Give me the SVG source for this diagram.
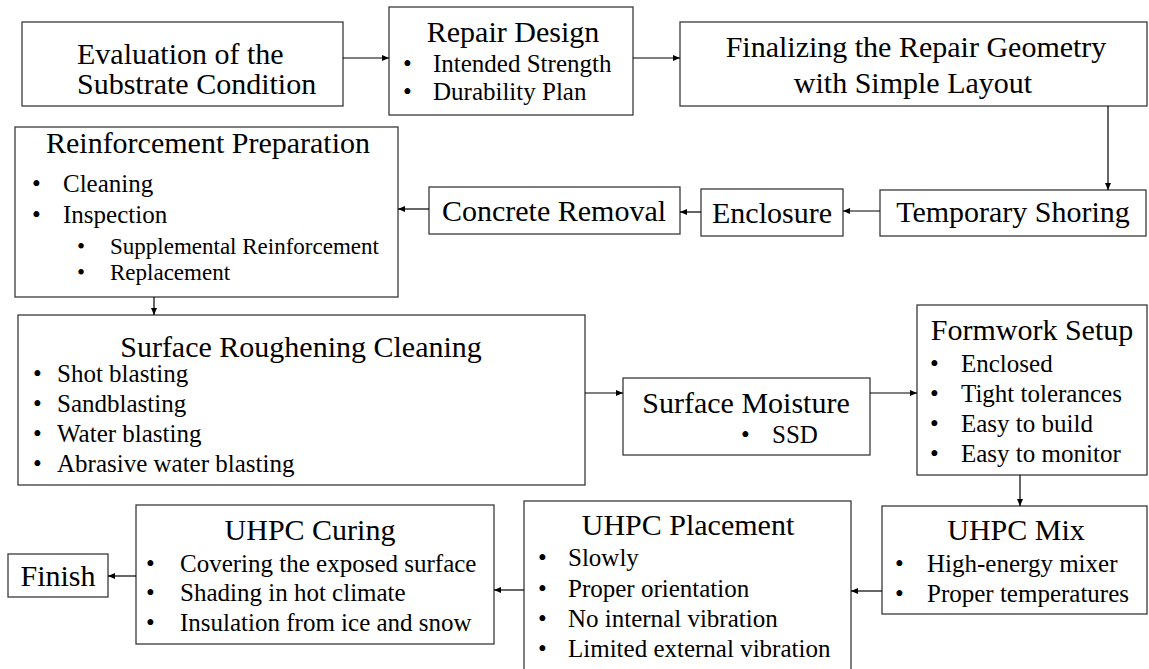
<svg xmlns="http://www.w3.org/2000/svg" width="1149" height="669" viewBox="0 0 1149 669">
  <style>
    .box { fill: #ffffff; stroke: #3a3a3a; stroke-width: 1.3; }
    text { font-family: "Liberation Serif", "Times New Roman", serif; fill: #000000; }
    .t { font-size: 30px; }
    .b { font-size: 25px; }
    .s { font-size: 23px; }
    .c { text-anchor: middle; }
    .edge { fill: none; stroke: #000000; stroke-width: 1.2; }
  </style>
  <defs>
    <marker id="arrow" markerUnits="userSpaceOnUse" markerWidth="8" markerHeight="7" refX="7" refY="3" orient="auto">
      <path d="M0,0 L7,3 L0,6 z" fill="#000000"/>
    </marker>
  </defs>
  <rect width="1149" height="669" fill="#ffffff"/>

  <g id="evaluation">
    <rect class="box" x="22" y="22" width="321" height="84"/>
    <text class="t" x="77" y="64">Evaluation of the</text>
    <text class="t" x="77" y="94">Substrate Condition</text>
  </g>

  <g id="repair-design">
    <rect class="box" x="389" y="7" width="244" height="108"/>
    <text class="t c" x="513" y="42">Repair Design</text>
    <text class="b" x="403" y="72">•</text>
    <text class="b" x="433" y="72">Intended Strength</text>
    <text class="b" x="403" y="100">•</text>
    <text class="b" x="433" y="100">Durability Plan</text>
  </g>

  <g id="geometry">
    <rect class="box" x="680" y="22" width="467" height="84"/>
    <text class="t c" x="916" y="57">Finalizing the Repair Geometry</text>
    <text class="t c" x="913" y="93">with Simple Layout</text>
  </g>

  <g id="shoring">
    <rect class="box" x="880" y="190" width="266" height="46"/>
    <text class="t c" x="1013" y="222">Temporary Shoring</text>
  </g>

  <g id="enclosure">
    <rect class="box" x="701" y="189" width="142" height="47"/>
    <text class="t c" x="772" y="223">Enclosure</text>
  </g>

  <g id="concrete-removal">
    <rect class="box" x="429" y="187" width="251" height="47"/>
    <text class="t c" x="554" y="221">Concrete Removal</text>
  </g>

  <g id="reinforcement">
    <rect class="box" x="15" y="127" width="383" height="170"/>
    <text class="t c" x="208" y="153">Reinforcement Preparation</text>
    <text class="b" x="32" y="192">•</text>
    <text class="b" x="63" y="192">Cleaning</text>
    <text class="b" x="32" y="223">•</text>
    <text class="b" x="63" y="223">Inspection</text>
    <text class="s" x="77" y="254">•</text>
    <text class="s" x="110" y="254">Supplemental Reinforcement</text>
    <text class="s" x="77" y="280">•</text>
    <text class="s" x="110" y="280">Replacement</text>
  </g>

  <g id="roughening">
    <rect class="box" x="18" y="315" width="567" height="170"/>
    <text class="t c" x="301" y="357">Surface Roughening Cleaning</text>
    <text class="b" x="33" y="382">•</text>
    <text class="b" x="57" y="382">Shot blasting</text>
    <text class="b" x="33" y="412">•</text>
    <text class="b" x="57" y="412">Sandblasting</text>
    <text class="b" x="33" y="442">•</text>
    <text class="b" x="57" y="442">Water blasting</text>
    <text class="b" x="33" y="472">•</text>
    <text class="b" x="57" y="472">Abrasive water blasting</text>
  </g>

  <g id="moisture">
    <rect class="box" x="623" y="378" width="247" height="77"/>
    <text class="t c" x="746" y="413">Surface Moisture</text>
    <text class="b" x="741" y="443">•</text>
    <text class="b" x="772" y="443">SSD</text>
  </g>

  <g id="formwork">
    <rect class="box" x="917" y="305" width="230" height="170"/>
    <text class="t c" x="1032" y="340">Formwork Setup</text>
    <text class="b" x="930" y="372">•</text>
    <text class="b" x="961" y="372">Enclosed</text>
    <text class="b" x="930" y="402">•</text>
    <text class="b" x="961" y="402">Tight tolerances</text>
    <text class="b" x="930" y="432">•</text>
    <text class="b" x="961" y="432">Easy to build</text>
    <text class="b" x="930" y="462">•</text>
    <text class="b" x="961" y="462">Easy to monitor</text>
  </g>

  <g id="mix">
    <rect class="box" x="882" y="506" width="265" height="108"/>
    <text class="t c" x="1016" y="540">UHPC Mix</text>
    <text class="b" x="895" y="572">•</text>
    <text class="b" x="927" y="572">High-energy mixer</text>
    <text class="b" x="895" y="602">•</text>
    <text class="b" x="927" y="602">Proper temperatures</text>
  </g>

  <g id="placement">
    <rect class="box" x="524" y="501" width="327" height="175"/>
    <text class="t c" x="688" y="535">UHPC Placement</text>
    <text class="b" x="538" y="566">•</text>
    <text class="b" x="568" y="566">Slowly</text>
    <text class="b" x="538" y="597">•</text>
    <text class="b" x="568" y="597">Proper orientation</text>
    <text class="b" x="538" y="627">•</text>
    <text class="b" x="568" y="627">No internal vibration</text>
    <text class="b" x="538" y="657">•</text>
    <text class="b" x="568" y="657">Limited external vibration</text>
  </g>

  <g id="curing">
    <rect class="box" x="136" y="505" width="358" height="139"/>
    <text class="t c" x="310" y="540">UHPC Curing</text>
    <text class="b" x="146" y="572">•</text>
    <text class="b" x="180" y="572">Covering the exposed surface</text>
    <text class="b" x="146" y="601">•</text>
    <text class="b" x="180" y="601">Shading in hot climate</text>
    <text class="b" x="146" y="631">•</text>
    <text class="b" x="180" y="631">Insulation from ice and snow</text>
  </g>

  <g id="finish">
    <rect class="box" x="8" y="554" width="100" height="43"/>
    <text class="t c" x="58" y="586">Finish</text>
  </g>

  <g id="connectors">
    <line class="edge" x1="343" y1="58" x2="389" y2="58" marker-end="url(#arrow)"/>
    <line class="edge" x1="633" y1="58" x2="680" y2="58" marker-end="url(#arrow)"/>
    <line class="edge" x1="1108" y1="106" x2="1108" y2="190" marker-end="url(#arrow)"/>
    <line class="edge" x1="880" y1="211" x2="843" y2="211" marker-end="url(#arrow)"/>
    <line class="edge" x1="701" y1="212" x2="680" y2="212" marker-end="url(#arrow)"/>
    <line class="edge" x1="429" y1="209" x2="398" y2="209" marker-end="url(#arrow)"/>
    <line class="edge" x1="154" y1="297" x2="154" y2="315" marker-end="url(#arrow)"/>
    <line class="edge" x1="585" y1="393" x2="623" y2="393" marker-end="url(#arrow)"/>
    <line class="edge" x1="870" y1="393" x2="917" y2="393" marker-end="url(#arrow)"/>
    <line class="edge" x1="1020" y1="475" x2="1020" y2="506" marker-end="url(#arrow)"/>
    <line class="edge" x1="882" y1="591" x2="851" y2="591" marker-end="url(#arrow)"/>
    <line class="edge" x1="524" y1="590" x2="494" y2="590" marker-end="url(#arrow)"/>
    <line class="edge" x1="136" y1="576" x2="108" y2="576" marker-end="url(#arrow)"/>
  </g>
</svg>
